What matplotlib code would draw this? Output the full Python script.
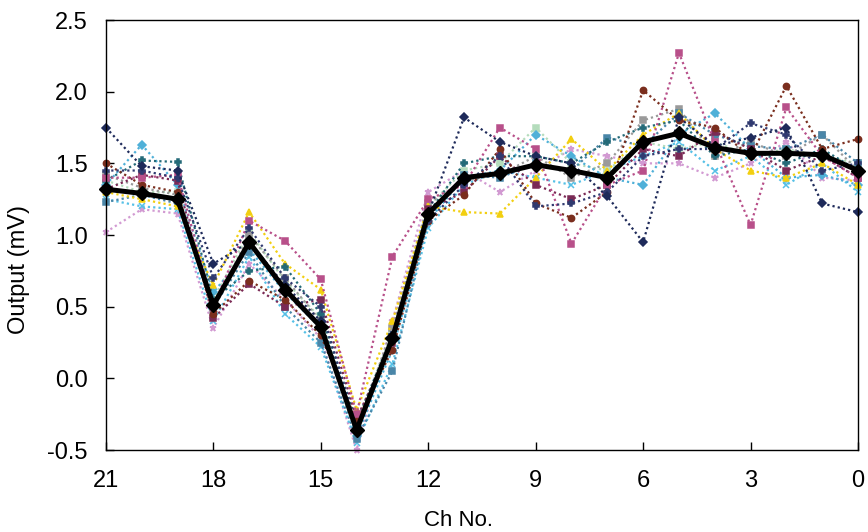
import numpy as np
import matplotlib
matplotlib.use("Agg")
import matplotlib.pyplot as plt

plt.rcParams.update({"font.family": ["Liberation Sans", "DejaVu Sans"],
                     "axes.unicode_minus": False})

# channel numbers, plotted right-to-left (21 ... 0)
CH = list(range(21, -1, -1))

# individual measurements (values listed for Ch 21, 20, ..., 0)
s_navy = [1.75, 1.48, 1.45, 0.80, 0.95, 0.65, 0.40, -0.35, 0.28, 1.15, 1.82,
          1.65, 1.55, 1.50, 1.27, 0.95, 1.82, 1.62, 1.68, 1.75, 1.22, 1.16]
s_pink = [1.40, 1.40, 1.42, 0.50, 1.10, 0.96, 0.69, -0.25, 0.85, 1.25, 1.35,
          1.75, 1.60, 0.94, 1.35, 1.45, 2.27, 1.65, 1.07, 1.89, 1.55, 1.40]
s_yellow = [1.30, 1.25, 1.20, 0.65, 1.16, 0.80, 0.62, -0.22, 0.40, 1.20, 1.16,
            1.15, 1.40, 1.67, 1.45, 1.70, 1.85, 1.60, 1.45, 1.40, 1.50, 1.35]
s_cyan = [1.25, 1.20, 1.18, 0.40, 0.85, 0.45, 0.22, -0.45, 0.10, 1.05, 1.35,
          1.45, 1.40, 1.35, 1.45, 1.55, 1.65, 1.45, 1.55, 1.35, 1.50, 1.30]
s_lilac = [1.02, 1.18, 1.15, 0.35, 0.80, 0.55, 0.28, -0.50, 0.40, 1.30, 1.45,
           1.30, 1.45, 1.60, 1.55, 1.50, 1.50, 1.40, 1.50, 1.65, 1.40, 1.38]
s_brown = [1.50, 1.35, 1.30, 0.45, 0.68, 0.55, 0.30, -0.30, 0.20, 1.10, 1.28,
           1.60, 1.22, 1.12, 1.30, 2.01, 1.80, 1.75, 1.55, 2.04, 1.60, 1.67]
s_teal = [1.38, 1.52, 1.51, 0.55, 0.75, 0.78, 0.45, -0.30, 0.30, 1.15, 1.50,
          1.55, 1.55, 1.50, 1.65, 1.75, 1.80, 1.55, 1.60, 1.50, 1.60, 1.45]
s_lblue = [1.35, 1.63, 1.35, 0.60, 0.90, 0.60, 0.35, -0.40, 0.20, 1.10, 1.40,
           1.45, 1.70, 1.55, 1.40, 1.35, 1.70, 1.85, 1.60, 1.40, 1.42, 1.35]
s_steel = [1.23, 1.28, 1.22, 0.50, 0.88, 0.50, 0.25, -0.42, 0.05, 1.12, 1.42,
           1.40, 1.50, 1.45, 1.68, 1.62, 1.85, 1.70, 1.62, 1.60, 1.70, 1.50]
s_gray = [1.42, 1.33, 1.28, 0.48, 1.00, 0.70, 0.40, -0.35, 0.35, 1.22, 1.38,
          1.42, 1.55, 1.40, 1.50, 1.80, 1.88, 1.55, 1.65, 1.55, 1.70, 1.45]
s_plum = [1.32, 1.42, 1.38, 0.42, 0.66, 0.50, 0.55, -0.28, 0.25, 1.18, 1.30,
          1.55, 1.35, 1.25, 1.35, 1.60, 1.55, 1.72, 1.60, 1.45, 1.55, 1.40]
s_green = [1.38, 1.30, 1.30, 0.55, 1.02, 0.68, 0.42, -0.32, 0.32, 1.20, 1.45,
           1.50, 1.75, 1.50, 1.45, 1.65, 1.60, 1.65, 1.55, 1.60, 1.55, 1.50]
s_dark = [1.45, 1.45, 1.40, 0.70, 1.05, 0.70, 0.50, -0.35, 0.30, 1.10, 1.35,
          1.55, 1.20, 1.22, 1.30, 1.55, 1.60, 1.60, 1.78, 1.70, 1.45, 1.50]

# average curve (thick black)
mean = [1.32, 1.29, 1.25, 0.51, 0.95, 0.62, 0.36, -0.36, 0.28, 1.15, 1.40,
        1.43, 1.49, 1.45, 1.40, 1.65, 1.71, 1.61, 1.57, 1.57, 1.56, 1.45]

series = [
    (s_lilac, "#d29ad2", "*"),
    (s_cyan, "#55c0e6", "x"),
    (s_green, "#b4dcbc", "s"),
    (s_gray, "#9a9a9a", "s"),
    (s_lblue, "#4fb0d8", "D"),
    (s_steel, "#4a86a8", "s"),
    (s_yellow, "#f2cf10", "^"),
    (s_teal, "#246a78", "P"),
    (s_plum, "#7a2a55", "s"),
    (s_brown, "#7a2e1e", "o"),
    (s_pink, "#b8508a", "s"),
    (s_dark, "#303a70", "P"),
    (s_navy, "#1e2a5a", "D"),
]

fig = plt.figure(figsize=(8.68, 5.32), dpi=100)
ax = fig.add_axes([0.122, 0.154, 0.8665, 0.8084])

for vals, col, mk in series:
    ax.plot(CH, vals, ls=(0, (1, 1.4)), lw=1.6, color=col, marker=mk,
            ms=4.5, mew=1.1, clip_on=False, zorder=2)

ax.plot(CH, mean, color="black", lw=3.6, marker="D", ms=7,
        clip_on=False, zorder=5)

ax.set_xlim(21, 0)
ax.set_ylim(-0.5, 2.5)
ax.set_xticks([21, 18, 15, 12, 9, 6, 3, 0])
yt = np.arange(-0.5, 2.51, 0.5)
ax.set_yticks(yt)
ax.set_yticklabels([f"{v:.1f}" for v in yt])
ax.tick_params(direction="in", length=6, width=1, labelsize=17)
ax.tick_params(axis="x", pad=14)
ax.tick_params(axis="y", pad=13)
ax.set_xlabel("Ch No.", fontsize=16)
ax.set_ylabel("Output (mV)", fontsize=17)
ax.xaxis.set_label_coords(0.469, -0.14)
ax.yaxis.set_label_coords(-0.101, 0.419)
for s in ax.spines.values():
    s.set_linewidth(1.0)

fig.savefig("out.png", dpi=100)
